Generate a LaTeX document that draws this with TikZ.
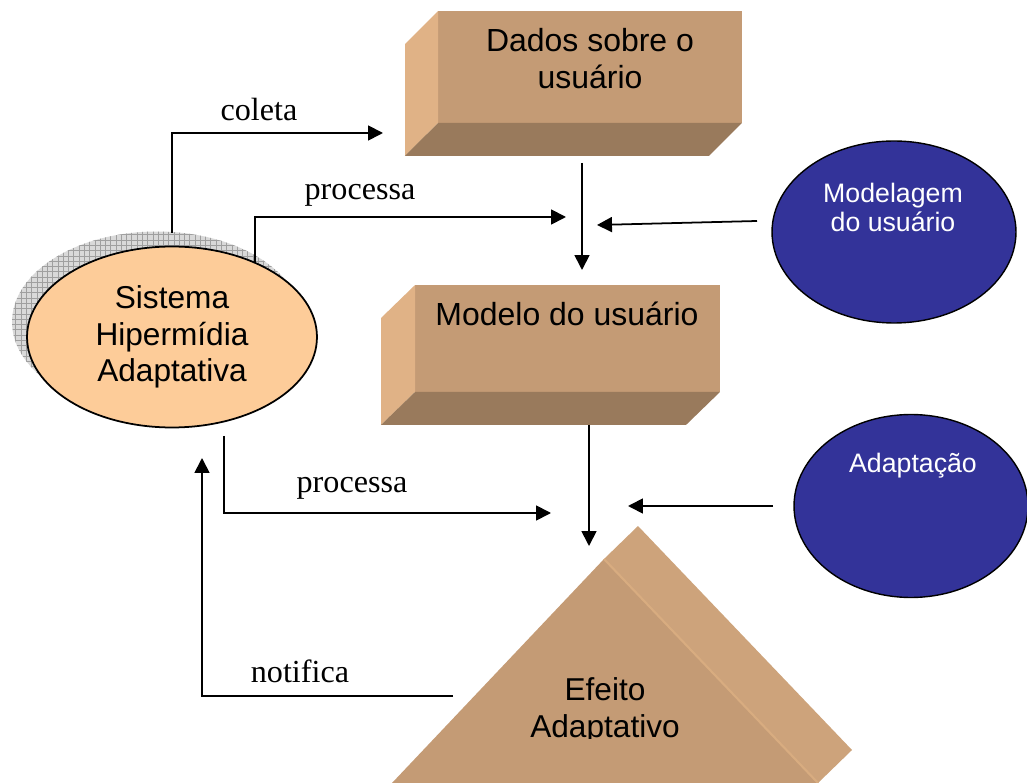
\documentclass[tikz,border=0pt]{standalone}
\usepackage{fontspec}
\setmainfont{Liberation Serif}
\newfontfamily\SansFont{Liberation Sans}
\usepackage{xcolor}
\definecolor{ColFront}{RGB}{196,155,117}
\definecolor{ColSide}{RGB}{224,178,134}
\definecolor{ColBottom}{RGB}{153,122,92}
\definecolor{ColBand}{RGB}{205,163,123}
\definecolor{ColRidge}{RGB}{216,172,128}
\definecolor{ColPeach}{RGB}{253,204,153}
\definecolor{ColBlue}{RGB}{51,51,153}
\usepackage{tikz}
\usetikzlibrary{shapes.geometric}
\usetikzlibrary{patterns}
\usetikzlibrary{arrows.meta}
\tikzstyle{Edge}=[draw=black,line width=1pt,-{Triangle[length=8.5pt,width=8.5pt]}]
\tikzstyle{Line}=[draw=black,line width=1pt]
\tikzstyle{Front}=[rectangle,fill=ColFront,inner sep=0pt,outer sep=0pt]
\tikzstyle{NodeText}=[font=\SansFont\fontsize{18.2pt}{21pt}\selectfont,
align=center,inner sep=0pt]
\tikzstyle{NodeBig}=[ellipse,draw=black,line width=1pt,fill=ColPeach,
inner sep=0pt,minimum width=5.8cm,minimum height=3.62cm,
font=\SansFont\fontsize{18pt}{20.8pt}\selectfont,align=center]
\tikzstyle{NodeBlue}=[ellipse,draw=black,line width=0.8pt,fill=ColBlue,inner sep=0pt]
\tikzstyle{NodeWhite}=[font=\SansFont\fontsize{15.2pt}{16.5pt}\selectfont,
text=white,align=center,inner sep=0pt]
\tikzstyle{NodeLabel}=[font=\fontsize{18.3pt}{20pt}\selectfont,anchor=base,inner sep=0pt]

\begin{document}
\begin{tikzpicture}[x=0.02cm,y=-0.02cm]
        \useasboundingbox(0,0)rectangle(1027,783);
        % boxes
        \node[Front,minimum width=6.08cm,minimum height=2.24cm](dados)at(590,67){};
        \fill[ColSide](dados.north west)--++(-33,33)--++(0,112)--(dados.south west)--cycle;
        \fill[ColBottom](dados.south west)--(dados.south east)--++(-33,33)--++(-304,0)--cycle;
        \node[NodeText](dadosT)at(590,59){Dados sobre o\\usuário};
        \node[Front,minimum width=6.1cm,minimum height=2.14cm](modelo)at(567.5,338.5){};
        \fill[ColSide](modelo.north west)--++(-34,33)--++(0,107)--(modelo.south west)--cycle;
        \fill[ColBottom](modelo.south west)--(modelo.south east)--++(-34,33)--++(-305,0)--cycle;
        \node[NodeText](modeloT)at(567,314){Modelo do usuário};
        % pyramid
        \coordinate(F)at(604,559);
        \coordinate(B)at(638,526);
        \coordinate(R)at(852,750);
        \coordinate(FL)at(392,783);
        \coordinate(FR)at(818,783);
        \fill[ColBand](F)--(B)--(R)--(FR)--cycle;
        \fill[ColFront](F)--(FL)--(FR)--cycle;
        \draw[ColRidge,line width=1.2pt](F)--(FR);
        \begin{scope}
        \clip(0,0)rectangle(1027,738);
        \node[NodeText,font=\SansFont\fontsize{18pt}{21pt}\selectfont](efeito)at(605,711){Efeito\\Adaptativo};
        \end{scope}
        % ellipses
        \fill[gray!30](157,322)ellipse[x radius=2.9cm,y radius=1.81cm];
        \fill[pattern=grid,pattern color=gray!75](157,322)ellipse[x radius=2.9cm,y radius=1.81cm];
        \node[NodeBig](sha)at(172,337){Sistema\\Hipermídia\\Adaptativa};
        \node[NodeBlue,minimum width=4.88cm,minimum height=3.64cm](modelagem)at(894,232){};
        \node[NodeWhite](modelagemT)at(893,207){Modelagem\\do usuário};
        \node[NodeBlue,minimum width=4.68cm,minimum height=3.66cm](adaptacao)at(911,506){};
        \node[NodeWhite](adaptacaoT)at(913,466){Adaptação};
        % connectors
        \coordinate(c1)at(172,233);
        \coordinate(c2)at(172,133);
        \coordinate(c3)at(383,133);
        \draw[Edge](c1)--(c2)--(c3);
        \coordinate(p1)at(255,263);
        \coordinate(p2)at(255,217);
        \coordinate(p3)at(566,217);
        \draw[Edge](p1)--(p2)--(p3);
        \coordinate(d1)at(582,163);
        \coordinate(d2)at(582,270);
        \draw[Edge](d1)--(d2);
        \coordinate(m1)at(757,221);
        \coordinate(m2)at(597,225);
        \draw[Edge](m1)--(m2);
        \coordinate(q1)at(224,436);
        \coordinate(q2)at(224,513);
        \coordinate(q3)at(551,513);
        \draw[Edge](q1)--(q2)--(q3);
        \coordinate(e1)at(589,425);
        \coordinate(e2)at(589,546);
        \draw[Edge](e1)--(e2);
        \coordinate(a1)at(773,506);
        \coordinate(a2)at(628,506);
        \draw[Edge](a1)--(a2);
        \coordinate(n1)at(453,696);
        \coordinate(n2)at(202,696);
        \coordinate(n3)at(202,458);
        \draw[Edge](n1)--(n2)--(n3);
        % labels
        \node[NodeLabel](coleta)at(259,121){coleta};
        \node[NodeLabel](proc1)at(360,200){processa};
        \node[NodeLabel](proc2)at(352,492){processa};
        \node[NodeLabel](notifica)at(300,682){notifica};
    \end{tikzpicture}
\end{document}
